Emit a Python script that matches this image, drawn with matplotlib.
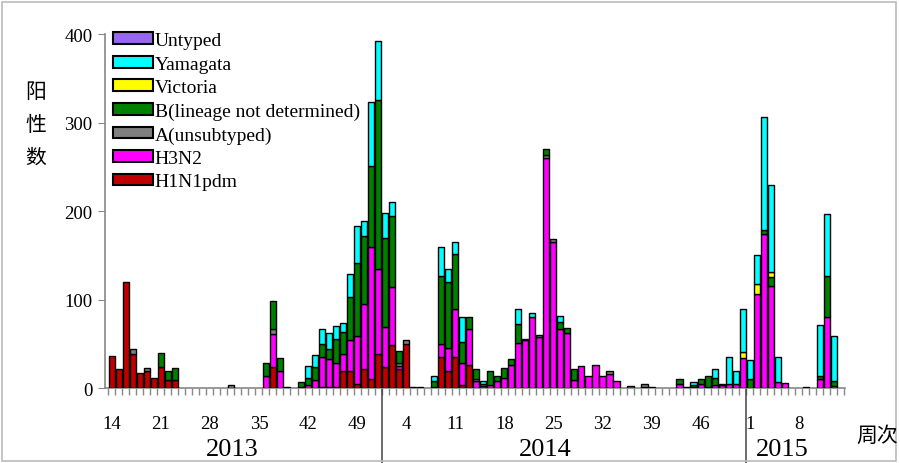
import numpy as np
import matplotlib
matplotlib.use("Agg")
import matplotlib.pyplot as plt
from matplotlib.patches import Patch, Rectangle
import matplotlib.transforms as mtransforms

plt.rcParams['font.family'] = ['Liberation Serif', 'Noto Sans CJK SC']

# weeks: 2013 wk14-52, 2014 wk1-52, 2015 wk1-14  (105 weeks)
tick_labels = ['14', '21', '28', '35', '42', '49',
               '4', '11', '18', '25', '32', '39', '46',
               '1', '8']
years = ['2013', '2014', '2015']

h1n1 = [37, 22, 120, 39, 17, 19, 12, 24, 9, 9, 0, 0, 0, 0, 0, 0, 0, 0, 0, 0,
        0, 0, 0, 24, 0, 0, 0, 0, 0, 0, 2, 2, 2, 20, 20, 5, 22, 11, 39,
        24, 49, 22, 50, 0, 0, 0, 2, 35, 20, 35, 4, 26, 0, 0, 0, 0, 0, 0, 0,
        0, 0, 0, 0, 0, 0, 0, 0, 0, 0, 0, 0, 0, 0, 0, 0, 0, 0, 0, 0,
        0, 0, 0, 0, 0, 0, 0, 0, 0, 0, 0, 0,
        0, 0, 0, 0, 0, 0, 0, 0, 0, 0, 0, 0, 0, 0]
h3n2 = [0, 0, 0, 0, 0, 0, 0, 0, 0, 0, 0, 0, 0, 0, 0, 0, 0, 0, 0, 0,
        0, 0, 14, 37, 20, 0, 0, 2, 4, 9, 33, 31, 27, 19, 34, 54, 73, 148, 96,
        45, 65, 3, 0, 0, 0, 0, 0, 15, 26, 54, 25, 41, 8, 3, 4, 8, 12, 26, 51,
        55, 80, 58, 260, 165, 67, 62, 9, 25, 14, 26, 14, 16, 8, 0, 3, 0, 2, 0, 0,
        0, 0, 5, 0, 2, 5, 2, 4, 4, 5, 5, 34,
        0, 106, 174, 116, 7, 6, 0, 0, 0, 0, 11, 80, 0, 0]
a_unsub = [0, 0, 0, 5, 0, 4, 0, 0, 0, 0, 0, 0, 0, 0, 0, 0, 0, 4, 0, 0,
           0, 0, 0, 6, 0, 1, 0, 0, 0, 0, 0, 0, 0, 0, 0, 0, 0, 0, 0,
           0, 0, 4, 4, 1, 1, 0, 0, 0, 0, 0, 0, 0, 3, 2, 0, 0, 0, 0, 0,
           1, 0, 2, 3, 4, 0, 0, 0, 0, 0, 0, 0, 4, 0, 0, 0, 0, 3, 2, 0,
           0, 0, 0, 2, 0, 0, 0, 0, 0, 0, 0, 0,
           0, 0, 0, 0, 0, 0, 0, 0, 2, 0, 0, 0, 3, 0]
b_nd = [0, 0, 0, 0, 0, 0, 0, 16, 11, 14, 0, 0, 0, 0, 0, 0, 0, 0, 0, 0,
        0, 0, 15, 32, 14, 0, 0, 5, 8, 15, 15, 11, 27, 24, 49, 83, 77, 92, 191,
        101, 80, 13, 0, 0, 0, 0, 6, 77, 74, 63, 23, 13, 11, 0, 15, 6, 11, 7, 22,
        0, 0, 0, 7, 0, 8, 6, 13, 0, 0, 0, 0, 0, 0, 0, 0, 0, 0, 0, 0,
        0, 0, 6, 0, 2, 5, 12, 8, 0, 0, 0, 0,
        11, 0, 5, 10, 0, 0, 0, 0, 0, 0, 3, 47, 5, 0]
victoria = [0, 0, 0, 0, 0, 0, 0, 0, 0, 0, 0, 0, 0, 0, 0, 0, 0, 0, 0, 0,
            0, 0, 0, 0, 0, 0, 0, 0, 0, 0, 0, 0, 0, 0, 0, 0, 0, 0, 0,
            0, 0, 0, 0, 0, 0, 0, 0, 0, 0, 0, 0, 0, 0, 0, 0, 0, 0, 0, 0,
            0, 0, 0, 0, 0, 0, 0, 0, 0, 0, 0, 0, 0, 0, 0, 0, 0, 0, 0, 0,
            0, 0, 0, 0, 0, 0, 0, 0, 0, 0, 0, 7,
            0, 12, 0, 5, 0, 0, 0, 0, 0, 0, 0, 0, 0, 0]
yamagata = [0, 0, 0, 0, 0, 0, 0, 0, 0, 0, 0, 0, 0, 0, 0, 0, 0, 0, 0, 0,
            0, 0, 0, 0, 0, 0, 0, 0, 13, 14, 17, 18, 14, 11, 26, 41, 17, 72, 66,
            28, 16, 0, 0, 0, 0, 0, 6, 32, 15, 13, 28, 0, 0, 3, 0, 0, 0, 0, 17,
            0, 5, 0, 0, 0, 7, 0, 0, 0, 0, 0, 0, 0, 0, 0, 0, 0, 0, 0, 0,
            0, 0, 0, 0, 3, 0, 0, 10, 1, 30, 15, 49,
            21, 32, 127, 99, 28, 0, 0, 0, 0, 0, 57, 70, 51, 0]
untyped = [0, 0, 0, 0, 0, 0, 0, 0, 0, 0, 0, 0, 0, 0, 0, 0, 0, 0, 0, 0,
           0, 0, 0, 0, 0, 0, 0, 0, 0, 0, 0, 0, 0, 0, 0, 0, 0, 0, 0,
           0, 0, 0, 0, 0, 0, 0, 0, 0, 0, 0, 0, 0, 0, 0, 0, 0, 0, 0, 0,
           0, 0, 0, 0, 0, 0, 0, 0, 0, 0, 0, 0, 0, 0, 0, 0, 0, 0, 0, 0,
           0, 0, 0, 0, 0, 0, 0, 0, 0, 0, 0, 0,
           0, 0, 0, 0, 0, 0, 0, 0, 0, 0, 0, 0, 0, 0]

# stacking order bottom -> top
series = [
    ('H1N1pdm', h1n1, '#c00000'),
    ('H3N2', h3n2, '#ff00ff'),
    ('A(unsubtyped)', a_unsub, '#7f7f7f'),
    ('B(lineage not determined)', b_nd, '#008000'),
    ('Victoria', victoria, '#ffff00'),
    ('Yamagata', yamagata, '#00ffff'),
    ('Untyped', untyped, '#9966ee'),
]

fig = plt.figure(figsize=(9, 4.64), dpi=100)
ax = fig.add_axes([105 / 900, (464 - 389.3) / 464, 740 / 900, 354.3 / 464])

x = np.arange(len(h1n1))
bottom = np.zeros(len(x))
for name, vals, col in series:
    v = np.array(vals, dtype=float)
    m = v > 0
    ax.bar(x[m], v[m], bottom=bottom[m], width=0.88, color=col,
           edgecolor='black', linewidth=1.0, zorder=3)
    bottom += v

ax.set_xlim(-0.96, 104.6)
ax.set_ylim(0, 400)
ax.set_yticks([0, 100, 200, 300, 400])
ax.set_xticks(np.arange(0, 105, 7))
ax.set_xticklabels(tick_labels)
ax.set_xticks(np.arange(-0.5, 105, 1), minor=True)
ax.tick_params(axis='x', which='major', length=0, pad=19, labelsize=13.5)
ax.tick_params(axis='x', which='minor', length=5, color='#888888', width=1)
ax.tick_params(axis='y', which='major', length=5, color='#888888', labelsize=13.5, pad=4)

for s in ['top', 'right']:
    ax.spines[s].set_visible(False)
ax.spines['left'].set_color('#888888')
ax.spines['bottom'].set_color('#888888')
ax.spines['left'].set_linewidth(1.2)
ax.spines['bottom'].set_linewidth(1.2)

# year separators
trans = mtransforms.blended_transform_factory(ax.transData, ax.transAxes)
for xs in [38.5, 90.5]:
    ax.plot([xs, xs], [0, -0.215], transform=trans, color='#444444',
            lw=1.1, clip_on=False)

fig.text(232 / 900, 1 - 450 / 464, years[0], ha='center', va='center', fontsize=19)
fig.text(545 / 900, 1 - 450 / 464, years[1], ha='center', va='center', fontsize=19)
fig.text(782 / 900, 1 - 450 / 464, years[2], ha='center', va='center', fontsize=19)
fig.text(877 / 900, 1 - 437 / 464, '周次', ha='center', va='center', fontsize=15)
fig.text(36 / 900, 1 - 126 / 464, '阳\n性\n数', ha='center', va='center',
         fontsize=15, linespacing=1.97)

handles = [Patch(facecolor=col, edgecolor='black', linewidth=1.5, label=name)
           for name, vals, col in series[::-1]]
ax.legend(handles=handles, loc='upper left', bbox_to_anchor=(0.011, 1.005),
          frameon=False, fontsize=14, handlelength=2.05, handleheight=0.55,
          handletextpad=0.08, labelspacing=0.33, borderpad=0, borderaxespad=0)

fig.patches.append(Rectangle((0.002, 0.004), 0.994, 0.99, transform=fig.transFigure,
                             fill=False, edgecolor='#bbbbbb', linewidth=1.2))

fig.savefig('out.png', dpi=100)
